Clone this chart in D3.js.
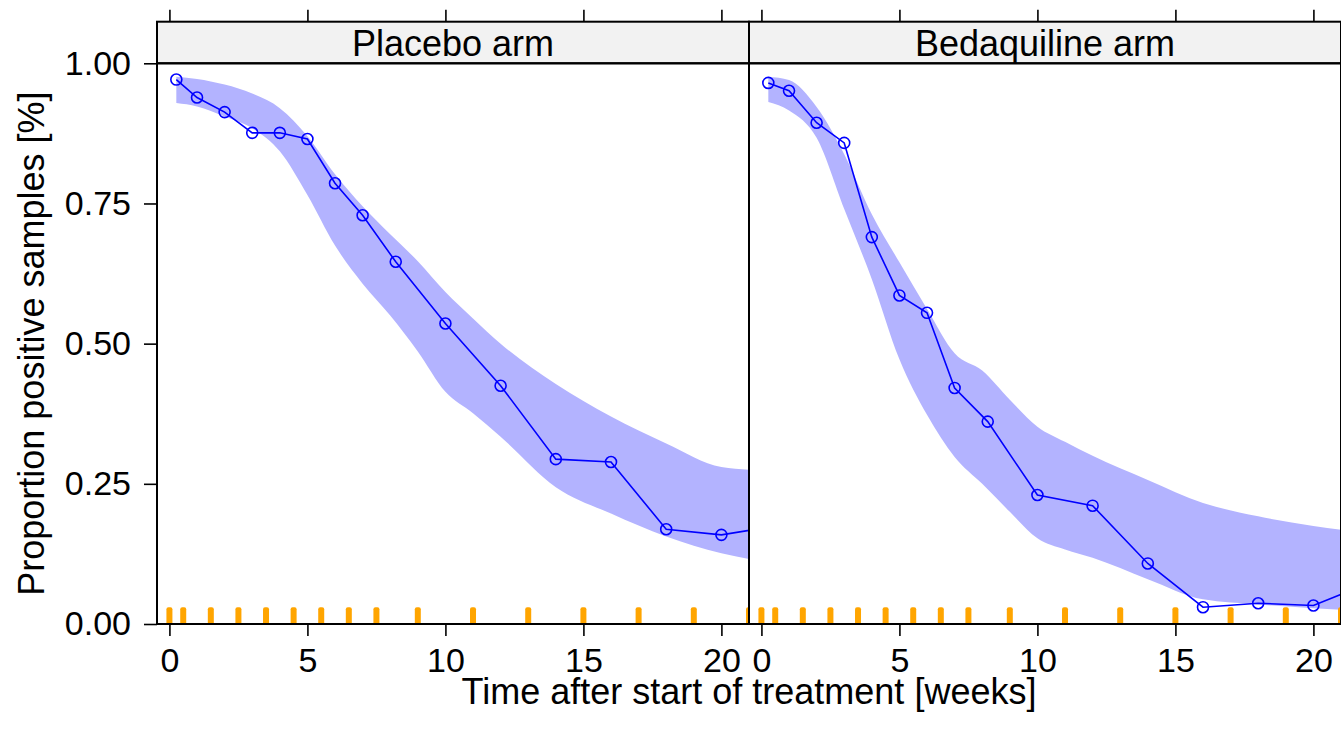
<!DOCTYPE html>
<html>
<head>
<meta charset="utf-8">
<script src="https://cdn.jsdelivr.net/npm/d3@7"></script>
<style>
  body { margin: 0; background: #fff; }
  svg { display: block; font-family: "Liberation Sans", Arial, sans-serif; }
</style>
</head>
<body>
<div id="chart"></div>
<script>
const arms = ["Placebo arm", "Bedaquiline arm"];

// observed proportion per visit bin
const obsWeeks = [0.25, 1, 2, 3, 4, 5, 6, 7, 8.2, 10, 12, 14, 16, 18, 20, 22];
const placeboObs = [0.971, 0.939, 0.913, 0.876, 0.876, 0.865, 0.786, 0.729, 0.646, 0.536, 0.425, 0.294, 0.289, 0.169, 0.159, 0.175];
const bedaquilineObs = [0.965, 0.951, 0.894, 0.858, 0.690, 0.586, 0.555, 0.421, 0.361, 0.230, 0.211, 0.108, 0.030, 0.037, 0.033, 0.073];

// prediction interval
const bandWeeks = [0.25, 1, 2, 3, 4, 5, 6, 7, 8, 9, 10, 11, 12, 14, 16, 18, 20, 21.5];
const placeboLower = [0.929, 0.923, 0.905, 0.884, 0.843, 0.765, 0.675, 0.607, 0.550, 0.486, 0.414, 0.376, 0.334, 0.244, 0.197, 0.156, 0.126, 0.112];
const placeboUpper = [0.976, 0.972, 0.962, 0.946, 0.920, 0.870, 0.802, 0.745, 0.695, 0.647, 0.592, 0.545, 0.500, 0.428, 0.370, 0.322, 0.280, 0.274];
const bedaquilineLower = [0.931, 0.916, 0.867, 0.740, 0.615, 0.472, 0.373, 0.298, 0.250, 0.200, 0.153, 0.133, 0.118, 0.080, 0.044, 0.035, 0.028, 0.024];
const bedaquilineUpper = [0.976, 0.970, 0.922, 0.838, 0.731, 0.645, 0.562, 0.483, 0.452, 0.400, 0.352, 0.325, 0.300, 0.257, 0.216, 0.192, 0.175, 0.165];

// bin breaks shown as rug
const binBreaks = [0, 0.5, 1.5, 2.5, 3.5, 4.5, 5.5, 6.5, 7.5, 9, 11, 13, 15, 17, 19, 21];

const xTicks = [0, 5, 10, 15, 20];
const yTicks = [0, 0.25, 0.5, 0.75, 1];

const width = 1341, height = 735;
const panelLeft = 157, panelWidth = 592;
const stripTop = 21.7, panelTop = 63.3, panelBottom = 624;

const panels = [
  { name: arms[0], obs: placeboObs, lower: placeboLower, upper: placeboUpper },
  { name: arms[1], obs: bedaquilineObs, lower: bedaquilineLower, upper: bedaquilineUpper }
];

const svg = d3.select("#chart").append("svg")
  .attr("width", width)
  .attr("height", height);

const x = d3.scaleLinear().domain([-0.45, 21]).range([0, panelWidth]);
const y = d3.scaleLinear().domain([0, 1]).range([panelBottom, panelTop]);

const area = d3.area()
  .curve(d3.curveMonotoneX)
  .x((d, i) => x(bandWeeks[i]))
  .y0(d => y(d[0]))
  .y1(d => y(d[1]));

const line = d3.line()
  .x((d, i) => x(obsWeeks[i]))
  .y(d => y(d));

function styleAxis(a) {
  a.select(".domain").remove();
  a.selectAll(".tick line").attr("stroke", "#000").attr("stroke-width", 1.6);
  a.selectAll(".tick text")
    .attr("font-family", "Liberation Sans, Arial, sans-serif")
    .attr("font-size", 34)
    .attr("fill", "#000");
}

panels.forEach((p, k) => {
  let g = svg.append("g")
    .attr("transform", "translate(" + (panelLeft + k * panelWidth) + ",0)");

  let clipId = "clip" + k;
  g.append("clipPath").attr("id", clipId)
    .append("rect")
    .attr("x", 0).attr("y", panelTop)
    .attr("width", panelWidth).attr("height", panelBottom - panelTop);

  let body = g.append("g").attr("clip-path", "url(#" + clipId + ")");

  body.append("path")
    .datum(p.lower.map((v, i) => [v, p.upper[i]]))
    .attr("d", area)
    .attr("fill", "#B3B3FF");

  body.append("path")
    .datum(p.obs)
    .attr("d", line)
    .attr("fill", "none")
    .attr("stroke", "#0000FF")
    .attr("stroke-width", 1.6);

  body.selectAll("circle")
    .data(p.obs)
    .enter().append("circle")
    .attr("cx", (d, i) => x(obsWeeks[i]))
    .attr("cy", d => y(d))
    .attr("r", 5.5)
    .attr("fill", "none")
    .attr("stroke", "#0000FF")
    .attr("stroke-width", 1.6);

  body.selectAll("rect.rug")
    .data(binBreaks)
    .enter().append("rect")
    .attr("class", "rug")
    .attr("x", d => x(d) - 3)
    .attr("y", y(0.03))
    .attr("width", 6)
    .attr("height", y(0) - y(0.03) + 2)
    .attr("rx", 2)
    .attr("fill", "#FFA500");

  // strip
  g.append("rect")
    .attr("x", 0).attr("y", stripTop)
    .attr("width", panelWidth).attr("height", panelTop - stripTop)
    .attr("fill", "#F2F2F2")
    .attr("stroke", "#000").attr("stroke-width", 2);

  g.append("text")
    .attr("x", panelWidth / 2)
    .attr("y", 56)
    .attr("text-anchor", "middle")
    .attr("font-size", 36)
    .text(p.name);

  g.append("rect")
    .attr("x", 0).attr("y", panelTop)
    .attr("width", panelWidth).attr("height", panelBottom - panelTop)
    .attr("fill", "none")
    .attr("stroke", "#000").attr("stroke-width", 2);

  let bottomAxis = g.append("g")
    .attr("transform", "translate(0," + panelBottom + ")")
    .call(d3.axisBottom(x).tickValues(xTicks).tickSize(12).tickPadding(12).tickFormat(d3.format("d")));
  styleAxis(bottomAxis);

  let topAxis = g.append("g")
    .attr("transform", "translate(0," + stripTop + ")")
    .call(d3.axisTop(x).tickValues(xTicks).tickSize(12).tickFormat(""));
  styleAxis(topAxis);

  if (k === 0) {
    let leftAxis = g.append("g")
      .call(d3.axisLeft(y).tickValues(yTicks).tickSize(13).tickPadding(13).tickFormat(d3.format(".2f")));
    styleAxis(leftAxis);
  }
});

svg.append("text")
  .attr("x", panelLeft + panelWidth)
  .attr("y", 704)
  .attr("text-anchor", "middle")
  .attr("font-size", 36)
  .text("Time after start of treatment [weeks]");

svg.append("text")
  .attr("transform", "translate(44," + ((panelTop + panelBottom) / 2) + ") rotate(-90)")
  .attr("text-anchor", "middle")
  .attr("font-size", 36)
  .text("Proportion positive samples [%]");
</script>
</body>
</html>
